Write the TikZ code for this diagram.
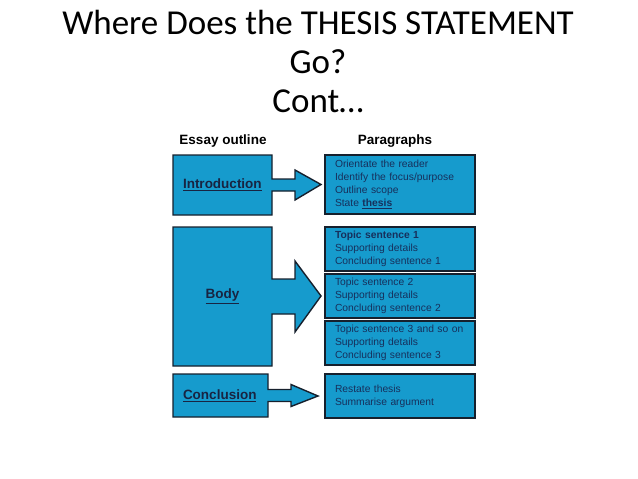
\documentclass[tikz,border=0pt]{standalone}
\usepackage{fontspec}
\setmainfont{Liberation Sans}
\newfontfamily\titlefont{Carlito}
\usetikzlibrary{calc,backgrounds}
\definecolor{boxblue}{RGB}{22,155,205}
\definecolor{edgedark}{RGB}{22,32,45}
\definecolor{textnavy}{RGB}{22,48,92}
\definecolor{labelnavy}{RGB}{24,36,66}

\begin{document}
\begin{tikzpicture}[x=1pt,y=-1pt,
  outline/.style={draw=edgedark,fill=boxblue,line width=1.4pt},
  part/.style={anchor=north west,inner xsep=10pt,inner ysep=0pt,outer sep=0pt,text width=#1,
    font=\fontsize{13.5}{16}\selectfont\bfseries,text=labelnavy},
  para/.style={anchor=north west,draw=edgedark,fill=boxblue,line width=1.4pt,outer sep=0pt,
    inner xsep=10pt,inner ysep=0pt,text width=130pt,align=left,minimum height=#1,
    font=\fontsize{10.3}{12.8}\selectfont,text=textnavy},
  head/.style={font=\fontsize{13.5}{16}\selectfont\bfseries}]
\useasboundingbox (0,0) rectangle (638,479);

\node[font=\titlefont\fontsize{35}{39}\selectfont,align=center] (title) at (318,61)
  {Where Does the THESIS STATEMENT\\Go?\\Cont…};

\node[head] (outlinehead) at (223,141) {Essay outline};
\node[head] (parahead) at (395,141) {Paragraphs};

\node[part=79pt,align=left,minimum height=60pt] (intro) at (173,155) {\underline{Introduction}};
\node[part=79pt,align=center,minimum height=139pt] (body) at (173,227) {\underline{Body}};
\node[part=75pt,align=left,minimum height=43pt] (concl) at (173,374) {\underline{Conclusion}};

\node[para=59pt] (introp) at (325,155)
  {Orientate the reader\\Identify the focus/purpose\\Outline scope\\State \textbf{\underline{thesis}}};
\node[para=44pt] (bodya) at (325,227)
  {\textbf{Topic sentence 1}\\Supporting details\\Concluding sentence 1};
\node[para=44pt] (bodyb) at (325,274)
  {Topic sentence 2\\Supporting details\\Concluding sentence 2};
\node[para=44pt] (bodyc) at (325,321)
  {Topic sentence 3 and so on\\Supporting details\\Concluding sentence 3};
\node[para=44pt] (conclp) at (325,374)
  {Restate thesis\\Summarise argument};

\begin{scope}[on background layer]
\foreach \src/\dst/\sh/\hd/\gp in {intro/introp/6/15/4, body/bodyb/17.5/35.5/4, concl/conclp/6/11/7}
  \draw[outline] (\src.north west) -- (\src.north east) -- ($(\src.east)+(0,-\sh)$)
    -- ($(\src.east)+(23,-\sh)$) -- ($(\src.east)+(23,-\hd)$) -- ($(\dst.west)+(-\gp,0)$)
    -- ($(\src.east)+(23,\hd)$) -- ($(\src.east)+(23,\sh)$) -- ($(\src.east)+(0,\sh)$)
    -- (\src.south east) -- (\src.south west) -- cycle;
\end{scope}
\end{tikzpicture}
\end{document}
